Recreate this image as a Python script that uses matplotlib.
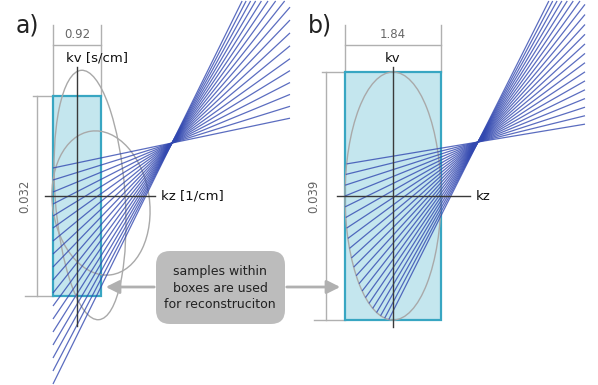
import numpy as np
import matplotlib
matplotlib.use('Agg')
import matplotlib.pyplot as plt
from matplotlib.patches import Rectangle, Ellipse, FancyBboxPatch, PathPatch
from matplotlib.path import Path

### Data
########

panel_labels = ['a)', 'b)']
width_labels = ['0.92', '1.84']
height_labels = ['0.032', '0.039']
kv_labels = ['kv [s/cm]', 'kv']
kz_labels = ['kz [1/cm]', 'kz']
callout_text = 'samples within\nboxes are used\nfor reconstruciton'

# panel a: where each trajectory starts on the left edge (px from top)
start_y_a = [168, 180, 192, 204, 216, 228, 241, 254, 267, 280, 293,
             306, 319, 332, 345, 358, 371, 384]
# panel b: where each trajectory starts on the ellipse (angle, deg)
start_ang_b = [195, 190, 185, 180, 175, 170, 165, 160, 155, 150, 145,
               140, 135, 130, 125, 120, 115, 110, 105, 100, 95]

### Helpers
###########

BLUE = '#3248b0'
GRAY = '#b0b0b0'


def end_point(S, W, xmax, ymin=1.0):
    d = W - S
    d = d / np.hypot(*d)
    tx = (xmax - W[0]) / d[0]
    ty = (ymin - W[1]) / d[1] if d[1] < 0 else np.inf
    return W + d * min(tx, ty)


def trajectory(ax, S, W, xmax, r):
    E = end_point(S, W, xmax)
    u1 = (S - W) / np.hypot(*(S - W))
    u2 = (E - W) / np.hypot(*(E - W))
    P1 = W + u1 * r
    P2 = W + u2 * r
    verts = [S, P1, W, P2, E]
    codes = [Path.MOVETO, Path.LINETO, Path.CURVE3, Path.CURVE3, Path.LINETO]
    ax.add_patch(PathPatch(Path(verts, codes), fill=False, ec=BLUE,
                           lw=0.9, alpha=0.8, zorder=4))


def panel(ax, box, origin, i):
    x0, y0, x1, y1 = box
    ox, oy = origin
    ax.add_patch(Rectangle((x0, y0), x1 - x0, y1 - y0, fc='#c4e6ee',
                           ec='#38a6c2', lw=1.6, zorder=2))
    # dimension lines
    ax.plot([x0, x0], [25, y0], color=GRAY, lw=1, zorder=1)
    ax.plot([x1, x1], [25, y0], color=GRAY, lw=1, zorder=1)
    ax.plot([x0, x1], [45, 45], color=GRAY, lw=1, zorder=1)
    ax.text((x0 + x1) / 2, 34, width_labels[i], ha='center', va='center',
            fontsize=8.5, color='#666666')
    dx = x0 - (16 if i == 0 else 19)
    ax.plot([dx, dx], [y0, y1], color=GRAY, lw=1, zorder=1)
    ax.plot([dx - 4, x0], [y0, y0], color=GRAY, lw=1, zorder=1)
    ax.plot([dx - 12, x0], [y1, y1], color=GRAY, lw=1, zorder=1)
    ax.text(dx - 12, oy, height_labels[i], rotation=90, ha='center',
            va='center', fontsize=8.5, color='#666666')
    # axes
    ax.plot([ox, ox], [67, y1 + 30 if i == 0 else y1 + 7], color='#3a3a3a',
            lw=1, zorder=6)
    zl = ox - 32 if i == 0 else ox - 56
    zr = 155 if i == 0 else 470
    ax.plot([zl, zr], [oy, oy], color='#3a3a3a', lw=1, zorder=6)
    ax.text(zr + 6, oy, kz_labels[i], ha='left', va='center', fontsize=9.5,
            color='#111111')
    ax.text(ox + (20 if i == 0 else 0), 58, kv_labels[i], ha='center',
            va='center', fontsize=9.5, color='#111111')
    ax.text(x0 - 37, 26, panel_labels[i], ha='left', va='center',
            fontsize=17, color='#222222')


fig = plt.figure(figsize=(5.98, 3.85), dpi=100)
ax = fig.add_axes([0, 0, 1, 1])
ax.set_xlim(0, 598)
ax.set_ylim(385, 0)
ax.axis('off')

### Panel a
box_a = (53, 96, 101, 296)
panel(ax, box_a, (77, 196), 0)
ax.add_patch(Ellipse((90, 195), 70, 250, angle=-4, fill=False, ec='#a9a9a9',
                     lw=1, zorder=3))
ax.add_patch(Ellipse((101, 203), 97, 145, angle=-8, fill=False, ec='#a9a9a9',
                     lw=1, zorder=3))
Wa = np.array([172.0, 143.0])
for y in start_y_a:
    trajectory(ax, np.array([53.0, y]), Wa, 290, 6)

### Panel b
box_b = (345, 72, 441, 320)
panel(ax, box_b, (393, 196), 1)
ax.add_patch(Ellipse((393, 196), 96, 248, fill=False, ec='#a9a9a9', lw=1,
                     zorder=3))
Wb = np.array([478.0, 142.0])
for t in start_ang_b:
    S = np.array([393 + 48 * np.cos(np.radians(t)),
                  196 + 124 * np.sin(np.radians(t))])
    trajectory(ax, S, Wb, 585, 22)

### Callout
ax.add_patch(FancyBboxPatch((156, 251), 129, 73,
                            boxstyle='round,pad=0,rounding_size=14',
                            fc='#bcbcbc', ec='none', zorder=7))
ax.text(220, 288, callout_text, ha='center', va='center', fontsize=9,
        color='#222222', linespacing=1.4, zorder=8)
ax.annotate('', xy=(103, 287), xytext=(157, 287),
            arrowprops=dict(arrowstyle='-|>,head_length=0.8,head_width=0.4',
                            color=GRAY, lw=2), zorder=7)
ax.annotate('', xy=(343, 287), xytext=(284, 287),
            arrowprops=dict(arrowstyle='-|>,head_length=0.8,head_width=0.4',
                            color=GRAY, lw=2), zorder=7)

fig.savefig('out.png', dpi=100)
